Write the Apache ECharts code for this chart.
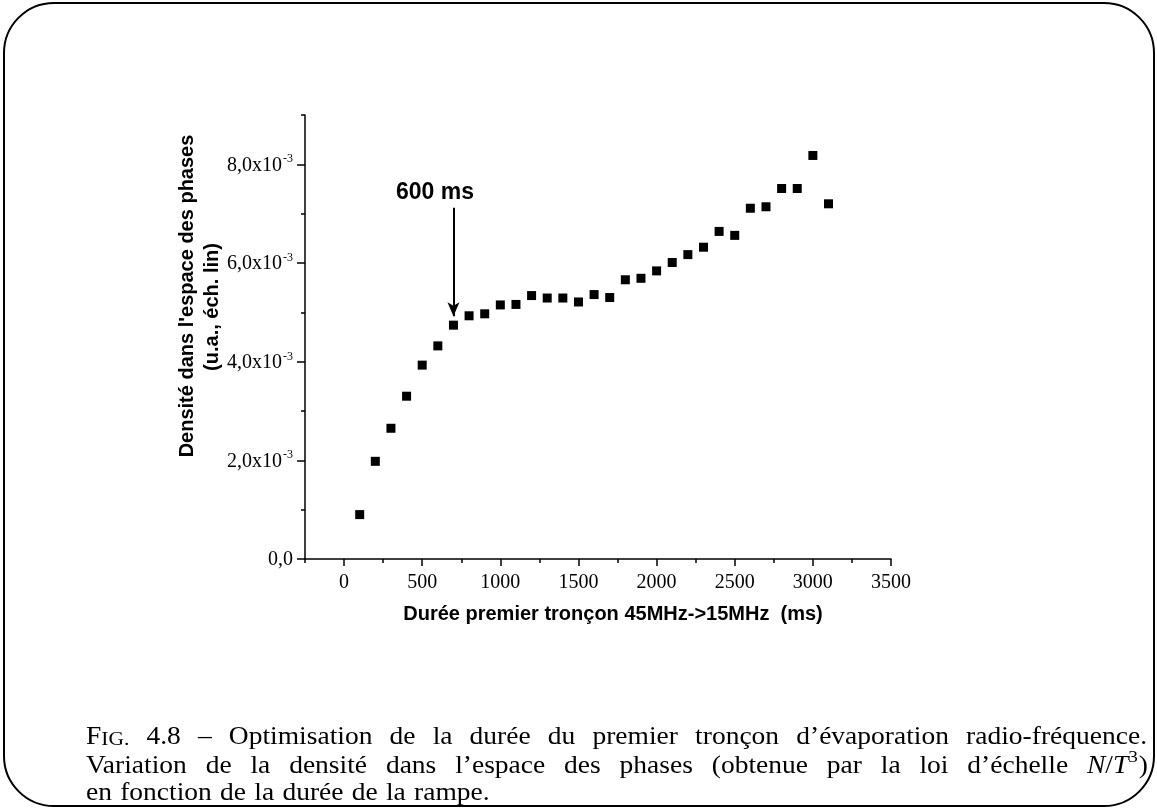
<!DOCTYPE html>
<html><head><meta charset="utf-8">
<script src="https://cdn.jsdelivr.net/npm/echarts@6/dist/echarts.min.js"></script>
<style>html,body{margin:0;padding:0;background:#fff}#c{width:1157px;height:809px}</style>
</head><body><div id="c"></div>
<script>
// ---- data ----
const durations = [100,200,300,400,500,600,700,800,900,1000,1100,1200,1300,1400,1500,1600,1700,1800,1900,2000,2100,2200,2300,2400,2500,2600,2700,2800,2900,3000,3100];
const density = [0.90e-3,1.98e-3,2.65e-3,3.30e-3,3.93e-3,4.32e-3,4.74e-3,4.93e-3,4.97e-3,5.15e-3,5.16e-3,5.34e-3,5.29e-3,5.29e-3,5.21e-3,5.36e-3,5.30e-3,5.66e-3,5.69e-3,5.84e-3,6.01e-3,6.17e-3,6.32e-3,6.64e-3,6.56e-3,7.11e-3,7.14e-3,7.51e-3,7.51e-3,8.18e-3,7.20e-3];
const xTickValues = [0,500,1000,1500,2000,2500,3000,3500];
const xMinorTicks = [-250,250,750,1250,1750,2250,2750,3250];
const yTickValues = [0,0.002,0.004,0.006,0.008];
const yMinorTicks = [0.001,0.003,0.005,0.007,0.009];
const arrowX = 700, arrowFrom = 7.12e-3, arrowTo = 4.92e-3;
const arrowText = '600 ms', arrowTextX = 582, arrowTextY = 7.42e-3;
const xTitle = 'Durée premier tronçon 45MHz->15MHz  (ms)';
const yTitle1 = "Densité dans l'espace des phases";
const yTitle2 = '(u.a., éch. lin)';
const captionLines = [
  [[['F','n'],['IG.','sc']],[['4.8','n']],[['–','n']],[['Optimisation','n']],[['de','n']],[['la','n']],[['durée','n']],[['du','n']],[['premier','n']],[['tronçon','n']],[['d’évaporation','n']],[['radio-fréquence.','n']]],
  [[['Variation','n']],[['de','n']],[['la','n']],[['densité','n']],[['dans','n']],[['l’espace','n']],[['des','n']],[['phases','n']],[['(obtenue','n']],[['par','n']],[['la','n']],[['loi','n']],[['d’échelle','n']],[['N','it'],['/','n'],['T','it'],['3','sup'],[')','n']]],
  [[['en','n']],[['fonction','n']],[['de','n']],[['la','n']],[['durée','n']],[['de','n']],[['la','n']],[['rampe.','n']]]
];

const serif = 'Liberation Serif';
const sans = 'Liberation Sans';
const chart = echarts.init(document.getElementById('c'), null, {renderer:'canvas'});

// caption layout (Computer-Modern-like width: slightly widened serif)
const ctx = document.createElement('canvas').getContext('2d');
const widen = 1.1;
function segFont(kind, size){
  if (kind==='it') return {style:'italic', size:size};
  if (kind==='sc') return {style:'normal', size:size*0.78};
  if (kind==='sup') return {style:'normal', size:size*0.7};
  return {style:'normal', size:size};
}
function measure(t, f){ ctx.font = f.style + ' ' + f.size + 'px "' + serif + '"'; return ctx.measureText(t).width*widen; }
function tokenWidth(tok, size){ let w=0; tok.forEach(s=>{ w+=measure(s[0], segFont(s[1], size)); }); return w; }
const capLeft = 86, capRight = 1147;
const capSize = 25;
const capBottoms = [750, 779, 806];
const graphics = [];
captionLines.forEach((line, li)=>{
  const widths = line.map(t=>tokenWidth(t, capSize));
  const total = widths.reduce((a,b)=>a+b,0);
  const justify = li < 2;
  const gap = justify ? (capRight-capLeft-total)/(line.length-1) : capSize*0.33;
  let x = capLeft;
  line.forEach((tok, ti)=>{
    tok.forEach(s=>{
      const f = segFont(s[1], capSize);
      const up = s[1]==='sup' ? capSize*0.5 : 0;
      graphics.push({type:'text', x:x, y:capBottoms[li]-up, scaleX:widen, silent:true,
        style:{text:s[0], fill:'#000', font: f.style+' '+f.size+'px "'+serif+'"', align:'left', verticalAlign:'bottom'}});
      x += measure(s[0], f) + (s[1]==='sup' ? 1 : 0);
    });
    x += gap;
  });
});
// frame
graphics.push({type:'rect', shape:{x:4, y:3, width:1150, height:803, r:50}, silent:true, style:{fill:'none', stroke:'#000', lineWidth:2}});
// axis titles
graphics.push({type:'text', x:187, y:296, rotation:Math.PI/2, silent:true, style:{text:yTitle1, fill:'#000', font:'bold 20px "'+sans+'"', align:'center', verticalAlign:'middle'}});
graphics.push({type:'text', x:212, y:307, rotation:Math.PI/2, silent:true, style:{text:yTitle2, fill:'#000', font:'bold 20px "'+sans+'"', align:'center', verticalAlign:'middle'}});
graphics.push({type:'text', x:613, y:614, silent:true, style:{text:xTitle, fill:'#000', font:'bold 20px "'+sans+'"', align:'center', verticalAlign:'middle'}});

const axisLineStyle = {color:'#000', width:1.5};
const option = {
  animation:false,
  backgroundColor:'#fff',
  grid:{left:305, top:115, width:586, height:444, containLabel:false},
  xAxis:[
    {type:'value', position:'bottom', min:-250, max:3500, interval:250,
     axisLine:{show:true, onZero:false, lineStyle:axisLineStyle},
     axisTick:{show:true, customValues:xTickValues, length:7, lineStyle:axisLineStyle},
     axisLabel:{show:true, customValues:xTickValues, fontFamily:serif, fontSize:20, color:'#000', margin:14,
       formatter:function(v){ return String(Math.round(v)); }},
     splitLine:{show:false}},
    {type:'value', position:'bottom', min:-250, max:3500, interval:250,
     axisLine:{show:false, onZero:false},
     axisTick:{show:true, customValues:xMinorTicks, length:4, lineStyle:axisLineStyle},
     axisLabel:{show:false}, splitLine:{show:false}}
  ],
  yAxis:[
    {type:'value', position:'left', min:0, max:0.009, interval:0.001,
     axisLine:{show:true, onZero:false, lineStyle:axisLineStyle},
     axisTick:{show:true, customValues:yTickValues, length:8, lineStyle:axisLineStyle},
     axisLabel:{show:true, customValues:yTickValues, margin:12, color:'#000',
       formatter:function(v){
         if (Math.abs(v) < 1e-12) return '{m|0,0}';
         return '{m|' + (v*1000).toFixed(1).replace('.',',') + 'x10}{s|-3}';
       },
       rich:{m:{fontFamily:serif, fontSize:20, color:'#000', lineHeight:22, verticalAlign:'bottom'},
             s:{fontFamily:serif, fontSize:12, color:'#000', lineHeight:22, verticalAlign:'top', padding:[0,0,0,1]}}},
     splitLine:{show:false}},
    {type:'value', position:'left', min:0, max:0.009, interval:0.001,
     axisLine:{show:false, onZero:false},
     axisTick:{show:true, customValues:yMinorTicks, length:4, lineStyle:axisLineStyle},
     axisLabel:{show:false}, splitLine:{show:false}}
  ],
  series:[{
    type:'scatter', xAxisIndex:0, yAxisIndex:0, symbol:'rect', symbolSize:9,
    itemStyle:{color:'#000', opacity:1},
    data: durations.map((d,i)=>[d, density[i]]),
    markLine:{silent:true, animation:false, symbol:['none','arrow'], symbolSize:[9,14], precision:6,
      lineStyle:{color:'#000', width:2, type:'solid', opacity:1}, label:{show:false},
      data:[[{coord:[arrowX, arrowFrom]},{coord:[arrowX, arrowTo]}]]},
    markPoint:{silent:true, animation:false, symbol:'circle', symbolSize:1, itemStyle:{color:'rgba(0,0,0,0)'},
      label:{show:true, position:'inside', formatter:arrowText, fontFamily:sans, fontWeight:'bold', fontSize:23, color:'#000'},
      data:[{coord:[arrowTextX, arrowTextY]}]}
  }],
  graphic: graphics
};
chart.setOption(option);
</script></body></html>
